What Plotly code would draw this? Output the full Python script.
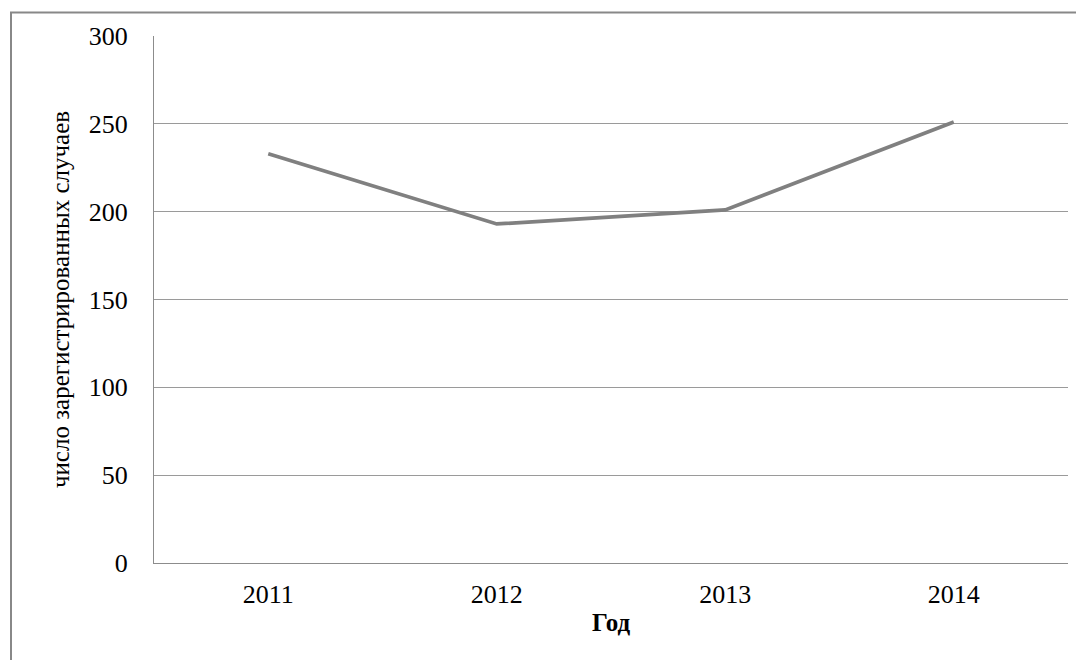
import plotly.graph_objects as go

years = ["2011", "2012", "2013", "2014"]
cases = [233, 193, 201, 251]
y_ticks = [0, 50, 100, 150, 200, 250, 300]

fig = go.Figure()
fig.add_trace(go.Scatter(
    x=years, y=cases, mode="lines",
    line=dict(color="#808080", width=3.75),
    showlegend=False, hoverinfo="skip",
))

# page body adds an 8px margin, so the figure is shrunk/shifted accordingly
W, H = 1076, 652
L, R, T, B = 146, 16, 28, 97
pw, ph = W - L - R, H - T - B

def px_x(x):
    return (x - L) / pw

def px_y(y):
    return (H - B - y) / ph

fig.update_layout(
    width=W, height=H,
    margin=dict(l=L, r=R, t=T, b=B),
    paper_bgcolor="white", plot_bgcolor="white",
    font=dict(family="Liberation Serif", size=25, color="#000"),
    xaxis=dict(
        type="category", range=[-0.5, 3.5],
        showgrid=False, showline=True, linecolor="#8c8c8c", linewidth=1,
        ticks="", ticklabelstandoff=8,
        tickfont=dict(size=26),
        title=dict(text="<b>Год</b>", font=dict(size=25), standoff=5),
    ),
    yaxis=dict(
        range=[0, 300], tickvals=y_ticks,
        showgrid=True, gridcolor="#9a9a9a", gridwidth=1,
        showline=True, linecolor="#8c8c8c", linewidth=1,
        ticks="", ticklabelstandoff=20, zeroline=False,
        tickfont=dict(size=26),
        title=dict(text="число зарегистрированных случаев", font=dict(size=25), standoff=12),
    ),
    shapes=[dict(
        type="rect", xref="paper", yref="paper",
        x0=px_x(3), x1=px_x(1095), y0=px_y(670), y1=px_y(4.5),
        line=dict(color="#888888", width=2), layer="below",
    )],
)

fig.write_html("out.html")
